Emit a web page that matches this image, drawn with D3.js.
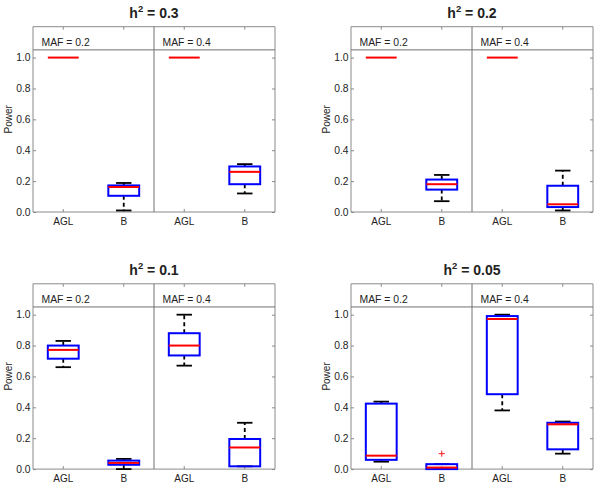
<!DOCTYPE html>
<html>
<head>
<meta charset="utf-8">
<script src="https://cdn.jsdelivr.net/npm/d3@7"></script>
<style>
  html, body { margin: 0; padding: 0; background: #fff; }
  svg { display: block; }
  text { font-family: "Liberation Sans", Arial, sans-serif; fill: #222; }
</style>
</head>
<body>
<svg id="chart" width="600" height="489"></svg>
<script>
// ---- data ----
const h2Values = ["0.3", "0.2", "0.1", "0.05"];
const mafLabels = ["MAF = 0.2", "MAF = 0.4"];
const methods = ["AGL", "B"];
const yTicks = [0, 0.2, 0.4, 0.6, 0.8, 1.0];
// box statistics per group: [min, q1, median, q3, max]
// group order: MAF0.2-AGL, MAF0.2-B, MAF0.4-AGL, MAF0.4-B
const stats_h03 = [[1, 1, 1, 1, 1], [0.01, 0.105, 0.162, 0.172, 0.188], [1, 1, 1, 1, 1], [0.12, 0.18, 0.26, 0.295, 0.31]];
const stats_h02 = [[1, 1, 1, 1, 1], [0.07, 0.145, 0.18, 0.21, 0.24], [1, 1, 1, 1, 1], [0.01, 0.032, 0.05, 0.17, 0.268]];
const stats_h01 = [[0.66, 0.715, 0.772, 0.80, 0.83], [0.0, 0.028, 0.04, 0.055, 0.066], [0.67, 0.736, 0.80, 0.88, 1.0], [0.018, 0.018, 0.14, 0.195, 0.30]];
const stats_h005 = [[0.048, 0.06, 0.087, 0.424, 0.437], [0.0, 0.0, 0.01, 0.032, 0.032], [0.38, 0.485, 0.972, 0.991, 1.0], [0.10, 0.128, 0.29, 0.30, 0.308]];
const allStats = [stats_h03, stats_h02, stats_h01, stats_h005];
// outliers: [panel index, group index, value]
const outliers = [[3, 1, 0.10]];

// ---- layout ----
const panelLeft = [33, 351];
const panelTop = [26.7, 283.8];
const panelW = 242;
const panelH = 185.3;
const yMax = 1.2;
const stripAt = 1.05;
const groupKeys = ["g0", "g1", "g2", "g3"];

const svg = d3.select("#chart");
const frameColor = "#8a8a8a";

allStats.forEach((stats, pi) => {
  const col = pi % 2, row = Math.floor(pi / 2);
  const left = panelLeft[col], top = panelTop[row];
  const g = svg.append("g").attr("transform", `translate(${left},${top})`);

  const y = d3.scaleLinear().domain([0, yMax]).range([panelH, 0]);
  const x = d3.scaleBand().domain(groupKeys).range([0, panelW]).padding(0);
  const bw = x.bandwidth() * 0.51;
  const capW = bw / 2;

  g.append("rect").attr("x", 0).attr("y", 0).attr("width", panelW).attr("height", panelH)
    .attr("fill", "#fff");

  // axes
  const labelOf = k => methods[groupKeys.indexOf(k) % 2];
  const axL = g.append("g").call(d3.axisLeft(y).tickValues(yTicks).tickSize(-3).tickPadding(2.5).tickFormat(d3.format(".1f")));
  const axR = g.append("g").attr("transform", `translate(${panelW},0)`).call(d3.axisRight(y).tickValues(yTicks).tickSize(-3).tickFormat(""));
  const axB = g.append("g").attr("transform", `translate(0,${panelH})`).call(d3.axisBottom(x).tickSize(-3).tickPadding(5.5).tickFormat(labelOf));
  const axT = g.append("g").call(d3.axisTop(x).tickSize(-3).tickFormat(""));
  [axL, axR, axB, axT].forEach(a => {
    a.select(".domain").attr("stroke", frameColor).attr("stroke-width", 1);
    a.selectAll(".tick line").attr("stroke", frameColor).attr("stroke-width", 1);
    a.selectAll(".tick text").attr("font-size", 10.3).attr("fill", "#222")
      .attr("font-family", "'Liberation Sans', Arial, sans-serif");
  });
  axB.selectAll(".tick text").attr("font-size", 10);
  axT.select(".domain").attr("d", `M0,0H${panelW}`);
  axB.select(".domain").attr("d", `M0,0H${panelW}`);
  axL.select(".domain").attr("d", `M0,0V${panelH}`);
  axR.select(".domain").attr("d", `M0,0V${panelH}`);

  // strip line and divider
  g.append("line").attr("x1", 0).attr("x2", panelW).attr("y1", y(stripAt)).attr("y2", y(stripAt))
    .attr("stroke", "#707070").attr("stroke-width", 1);
  g.append("line").attr("x1", panelW / 2).attr("x2", panelW / 2).attr("y1", 0).attr("y2", panelH)
    .attr("stroke", "#707070").attr("stroke-width", 1);

  // strip labels
  mafLabels.forEach((lab, i) => {
    g.append("text").attr("x", i * panelW / 2 + 8.5).attr("y", y(stripAt) - 4)
      .attr("font-size", 10.4).text(lab);
  });

  // y label
  g.append("text").attr("transform", `translate(-21,${panelH / 2}) rotate(-90)`)
    .attr("text-anchor", "middle").attr("font-size", 10).text("Power");

  // title
  const t = g.append("text").attr("x", panelW / 2).attr("y", -8.7).attr("text-anchor", "middle")
    .attr("font-size", 14).attr("font-weight", "bold");
  t.append("tspan").text("h");
  t.append("tspan").attr("dy", -6).attr("font-size", 9.5).text("2");
  t.append("tspan").attr("dy", 6).text(" = " + h2Values[pi]);

  // boxes
  stats.forEach((s, gi) => {
    const [mn, q1, md, q3, mx] = s;
    const cx = x(groupKeys[gi]) + x.bandwidth() / 2;
    const bg = g.append("g");
    if (mx > q3) {
      bg.append("line").attr("x1", cx).attr("x2", cx).attr("y1", y(q3)).attr("y2", y(mx))
        .attr("stroke", "#000").attr("stroke-width", 1.8).attr("stroke-dasharray", "4,3");
    }
    if (mn < q1) {
      bg.append("line").attr("x1", cx).attr("x2", cx).attr("y1", y(q1)).attr("y2", y(mn))
        .attr("stroke", "#000").attr("stroke-width", 1.8).attr("stroke-dasharray", "4,3");
    }
    const isDegenerate = (mx - mn) < 1e-9;
    if (!isDegenerate) {
      [mn, mx].forEach(v => {
        bg.append("line").attr("x1", cx - capW / 2).attr("x2", cx + capW / 2).attr("y1", y(v)).attr("y2", y(v))
          .attr("stroke", "#000").attr("stroke-width", 1.8);
      });
    }
    bg.append("rect").attr("x", cx - bw / 2).attr("y", y(q3)).attr("width", bw)
      .attr("height", Math.max(0, y(q1) - y(q3)))
      .attr("fill", "none").attr("stroke", "#0000ff").attr("stroke-width", 2);
    bg.append("line").attr("x1", cx - bw / 2).attr("x2", cx + bw / 2).attr("y1", y(md)).attr("y2", y(md))
      .attr("stroke", "#ff0000").attr("stroke-width", 2);
  });

  // outliers
  const plusType = d3.symbolPlus || d3.symbolCross;
  outliers.filter(o => o[0] === pi).forEach(o => {
    const cx = x(groupKeys[o[1]]) + x.bandwidth() / 2;
    g.append("path").attr("transform", `translate(${cx},${y(o[2])})`)
      .attr("d", d3.symbol().type(plusType).size(14)())
      .attr("fill", d3.symbolPlus ? "none" : "#ff0000")
      .attr("stroke", "#ff0000").attr("stroke-width", 0.9);
  });
});
</script>
</body>
</html>
